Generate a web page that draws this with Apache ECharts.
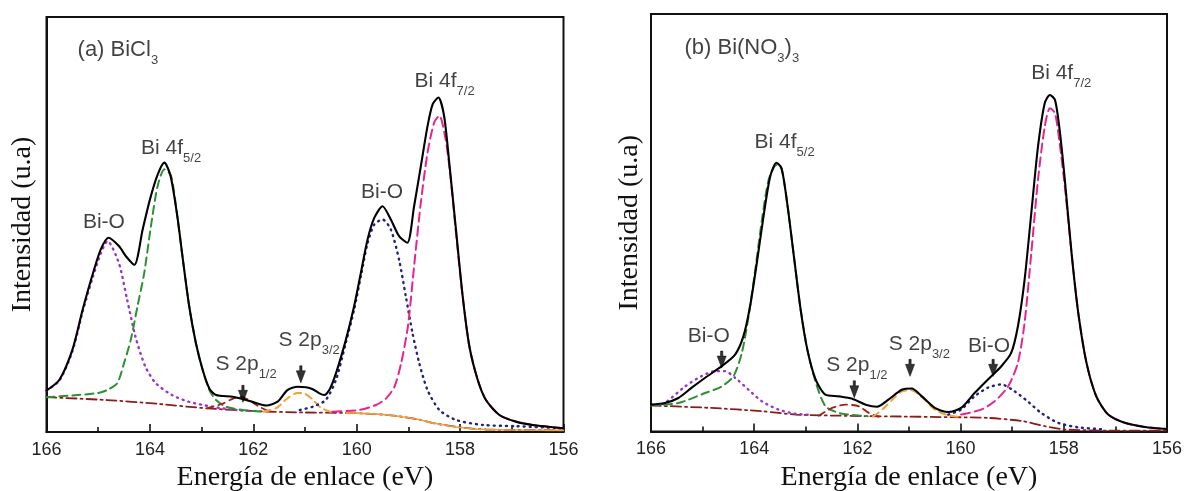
<!DOCTYPE html>
<html>
<head>
<meta charset="utf-8">
<script src="https://cdn.jsdelivr.net/npm/echarts@6/dist/echarts.min.js"></script>
<style>
html,body{margin:0;padding:0;background:#fff;}
#chart{width:1186px;height:491px;}
</style>
</head>
<body>
<div id="chart"></div>
<script>
// ---------- DATA (binding energy eV, intensity a.u.) ----------
const xTicks = [156, 158, 160, 162, 164, 166];

// Panel (a) BiCl3
const totalA = [[166.0,10.0],[165.75,12.6],[165.5,19.8],[165.3,29.5],[165.1,38.3],[164.95,44.0],[164.8,46.8],[164.6,44.8],[164.46,42.3],[164.3,40.3],[164.14,48.8],[164.0,56.0],[163.85,62.0],[163.72,64.9],[163.6,61.7],[163.47,52.0],[163.37,42.3],[163.24,30.3],[163.11,21.4],[162.98,15.0],[162.85,10.5],[162.72,8.9],[162.4,8.5],[162.2,7.9],[162.0,7.2],[161.75,6.4],[161.53,7.3],[161.34,10.1],[161.14,10.9],[160.98,10.8],[160.85,10.3],[160.72,9.3],[160.63,8.9],[160.53,10.1],[160.4,14.2],[160.21,22.2],[160.05,30.3],[159.92,38.3],[159.79,46.4],[159.66,51.6],[159.5,54.4],[159.34,51.2],[159.18,47.2],[159.02,45.6],[158.89,54.4],[158.76,64.0],[158.63,73.7],[158.53,79.0],[158.42,80.6],[158.31,76.2],[158.21,64.9],[158.08,48.8],[157.95,32.7],[157.82,20.6],[157.66,12.6],[157.5,7.7],[157.24,4.1],[156.92,2.5],[156.6,1.7],[156.0,0.9]];
const bgA = [[166.0,8.4],[164.83,7.7],[163.86,6.8],[162.9,5.7],[161.9,5.0],[161.0,4.7],[160.2,4.6],[159.6,4.3],[159.2,3.8],[158.8,3.0],[158.5,2.1],[158.0,1.1],[157.5,0.6],[156.0,0.4]];
const boLeftA = [[166.0,10.0],[165.75,12.4],[165.5,19.4],[165.3,29.0],[165.1,37.5],[164.95,43.0],[164.82,46.0],[164.6,40.7],[164.44,31.9],[164.28,23.0],[164.09,15.8],[163.89,11.8],[163.57,8.9],[163.25,7.3],[162.8,6.1],[162.4,5.4],[162.0,5.0]];
const bi5A = [[166.0,8.4],[165.5,8.8],[165.0,9.4],[164.83,10.1],[164.63,11.8],[164.5,16.6],[164.37,22.2],[164.24,30.3],[164.11,38.3],[163.98,49.6],[163.85,59.3],[163.72,63.3],[163.59,61.7],[163.47,52.0],[163.37,42.3],[163.24,30.3],[163.11,21.4],[162.98,15.0],[162.85,10.1],[162.72,7.7],[162.53,6.1],[162.2,5.3],[161.8,4.9]];
const s12A = [[162.9,5.7],[162.6,6.8],[162.4,8.0],[162.25,8.5],[162.1,7.8],[161.9,6.2],[161.7,5.0]];
const s32A = [[161.8,4.9],[161.55,5.8],[161.35,8.0],[161.15,9.4],[161.0,9.2],[160.85,7.8],[160.7,5.9],[160.5,4.8]];
const boRightA = [[161.1,5.3],[160.85,6.1],[160.6,7.7],[160.4,12.6],[160.21,21.5],[160.05,29.5],[159.92,37.5],[159.79,45.5],[159.66,50.0],[159.5,51.2],[159.34,48.8],[159.18,41.5],[159.05,32.7],[158.92,23.8],[158.79,16.6],[158.63,10.1],[158.4,5.3],[158.08,2.9],[157.56,1.7],[156.92,1.4],[156.0,0.9]];
const bi7A = [[160.47,4.9],[159.95,5.3],[159.63,6.5],[159.43,8.1],[159.27,10.9],[159.14,16.6],[159.01,25.4],[158.89,39.9],[158.76,55.2],[158.63,67.3],[158.5,74.6],[158.4,76.2],[158.28,70.5],[158.18,60.9],[158.08,48.0],[157.95,32.7],[157.82,20.6],[157.66,12.6],[157.5,7.7],[157.24,4.1],[156.92,2.5],[156.6,1.7],[156.0,0.9]];

// Panel (b) Bi(NO3)3
const totalB = [[166.0,6.5],[165.73,6.9],[165.47,8.1],[165.21,10.6],[164.95,13.0],[164.63,15.8],[164.37,18.6],[164.21,23.0],[164.08,30.3],[163.95,40.7],[163.82,52.0],[163.69,61.7],[163.57,65.0],[163.47,63.7],[163.36,55.2],[163.23,42.3],[163.1,29.5],[162.97,19.8],[162.81,12.6],[162.62,8.9],[162.36,8.5],[162.1,7.9],[161.84,6.5],[161.62,6.0],[161.4,7.7],[161.14,10.1],[160.95,10.4],[160.75,8.5],[160.5,5.7],[160.24,4.7],[159.99,5.7],[159.73,9.3],[159.47,12.6],[159.21,15.8],[159.02,19.0],[158.89,25.4],[158.76,36.7],[158.63,52.8],[158.5,68.9],[158.37,79.4],[158.27,81.4],[158.17,80.2],[158.08,72.9],[157.98,60.9],[157.85,43.2],[157.72,28.7],[157.56,16.6],[157.37,8.5],[157.14,4.1],[156.82,2.1],[156.43,1.1],[156.0,0.6]];
const bgB = [[166.0,6.3],[164.83,5.7],[163.85,4.9],[163.2,4.1],[162.23,3.8],[161.0,3.6],[160.4,3.5],[159.47,3.3],[158.8,2.5],[158.37,1.3],[158.0,0.5],[157.0,0.2],[156.0,0.2]];
const boLeftB = [[165.9,6.4],[165.73,6.9],[165.34,10.9],[165.02,13.4],[164.76,14.6],[164.57,14.6],[164.37,13.0],[164.11,10.1],[163.85,7.3],[163.53,5.3],[163.2,4.3],[162.9,4.0]];
const bi5B = [[166.0,6.3],[165.47,6.9],[164.95,9.3],[164.63,10.9],[164.4,13.4],[164.24,19.0],[164.11,27.8],[163.98,39.1],[163.85,51.2],[163.72,60.9],[163.57,64.5],[163.47,63.5],[163.36,55.2],[163.23,42.3],[163.1,29.5],[162.97,19.8],[162.81,12.0],[162.62,6.1],[162.36,4.5],[162.1,4.0],[161.8,3.7]];
const s12B = [[162.75,3.8],[162.49,5.7],[162.23,6.5],[161.97,6.1],[161.78,4.5],[161.59,3.6]];
const s32B = [[161.7,3.6],[161.5,5.5],[161.3,8.0],[161.14,9.7],[160.95,10.0],[160.75,8.3],[160.5,5.3],[160.24,3.9],[160.0,3.5]];
const boRightB = [[160.24,4.1],[159.99,5.3],[159.73,8.5],[159.47,10.6],[159.21,11.4],[158.95,9.7],[158.7,7.3],[158.44,4.5],[158.11,2.1],[157.72,1.0],[157.2,0.5]];
const bi7B = [[159.99,4.1],[159.6,5.3],[159.34,7.3],[159.08,10.9],[158.89,16.6],[158.76,26.3],[158.63,43.2],[158.5,60.9],[158.37,73.7],[158.27,78.2],[158.17,77.0],[158.08,69.7],[157.98,59.3],[157.85,43.2],[157.72,28.7],[157.56,16.6],[157.37,8.5],[157.14,4.1],[156.82,2.1],[156.43,1.1],[156.0,0.6]];

// Annotations: [text, energy, intensity]
const labelsA = [['{t|(a) BiCl}{s|3}',164.62,92.0],['{m|Bi-O}',164.89,50.6],['{m|Bi 4f}{s|5/2}',163.59,68.4],['{m|S 2p}{s|1/2}',162.14,16.4],['{m|S 2p}{s|3/2}',160.92,22.2],['{m|Bi-O}',159.51,57.8],['{m|Bi 4f}{s|7/2}',158.30,84.6]];
const arrowsA = [[162.20,9.2],[161.08,13.9]];
const labelsB = [['{t|(b) Bi(NO}{s|3}{t|)}{s|3}',164.24,92.8],['{m|Bi 4f}{s|5/2}',163.41,70.1],['{m|Bi-O}',164.88,23.0],['{m|S 2p}{s|1/2}',162.01,16.1],['{m|S 2p}{s|3/2}',160.80,21.2],['{m|Bi-O}',159.45,20.7],['{m|Bi 4f}{s|7/2}',158.05,86.7]];
const arrowsB = [[164.63,17.4],[162.06,10.2],[160.98,15.4],[159.37,15.4]];

// ---------- STYLE ----------
const SANS = 'Liberation Sans';
const SERIF = 'Liberation Serif';
const C = {
  total:'#000000', green:'#2f8f35', magenta:'#e8248e', purple:'#9a35c8',
  navy:'#23237e', orange:'#f0a23a', red:'#a3201c', bg:'#8a1c1c'
};
const rich = {
  t:{fontFamily:SANS, fontSize:22, color:'#111', lineHeight:34, verticalAlign:'middle'},
  m:{fontFamily:SANS, fontSize:21, color:'#111', lineHeight:34, verticalAlign:'middle'},
  s:{fontFamily:SANS, fontSize:13, color:'#111', lineHeight:13, verticalAlign:'top', padding:[21,0,0,0]}
};
const arrowPath = 'path://M3,0 L5,0 L5,5 L8,5 L4,17 L0,5 L3,5 Z';

function xAxisCfg(idx){
  return {
    type:'value', gridIndex:idx, min:156, max:166, interval:2, inverse:true,
    axisLine:{show:true, lineStyle:{color:'#111', width:2}},
    axisTick:{show:true, inside:true, length:8, lineStyle:{color:'#111', width:1.6}},
    minorTick:{show:true, splitNumber:2, length:5, lineStyle:{color:'#111', width:1.6}},
    splitLine:{show:false}, minorSplitLine:{show:false},
    axisLabel:{fontFamily:SANS, fontSize:18, color:'#222', margin:9,
      formatter:v => xTicks.includes(v) ? String(v) : ''},
    name:'Energía de enlace (eV)', nameLocation:'middle', nameGap:31,
    nameTextStyle:{fontFamily:SERIF, fontSize:28, color:'#111'}
  };
}
function yAxisCfg(idx, max, gap){
  return {
    type:'value', gridIndex:idx, min:0, max:max,
    axisLine:{show:true, lineStyle:{color:'#111', width:2}},
    axisTick:{show:false}, axisLabel:{show:false}, splitLine:{show:false},
    name:'Intensidad (u.a)', nameLocation:'middle', nameGap:gap,
    nameTextStyle:{fontFamily:SERIF, fontSize:28, color:'#111'}
  };
}
function line(idx, data, color, type, width, z){
  return {type:'line', xAxisIndex:idx, yAxisIndex:idx, data:data, showSymbol:false, symbol:'none',
    smooth:0.25, silent:true, z:z||2, animation:false,
    lineStyle:{color:color, type:type, width:width||1.8, cap:'round'}};
}
function labels(idx, arr){
  return {type:'scatter', xAxisIndex:idx, yAxisIndex:idx, symbolSize:1, silent:true, animation:false,
    itemStyle:{color:'rgba(0,0,0,0)'},
    data:arr.map(a => ({value:[a[1],a[2]], name:a[0]})),
    label:{show:true, position:'inside', formatter:p => p.name, rich:rich}, z:10};
}
function arrows(idx, arr){
  return {type:'scatter', xAxisIndex:idx, yAxisIndex:idx, symbol:arrowPath, symbolSize:[9,17],
    silent:true, animation:false, itemStyle:{color:'#000', borderColor:'#000', borderWidth:0.6}, data:arr, z:10};
}
function panel(idx, d){
  return [
    line(idx, d.bg, C.bg, [10,4,2,4], 1.8),
    line(idx, d.bgo, C.orange, 'solid', 1.6),
    line(idx, d.boL, C.purple, [1,5], 2.4),
    line(idx, d.bi5, C.green, [8,5], 2.0),
    line(idx, d.s12, C.red, [7,5], 1.8),
    line(idx, d.s32, C.orange, [7,5], 2.0),
    line(idx, d.boR, C.navy, [1,5], 2.4),
    line(idx, d.bi7, C.magenta, [9,5], 2.0),
    line(idx, d.total, C.total, 'solid', 2.1, 5),
    labels(idx, d.labels), arrows(idx, d.arrows)
  ];
}

const chart = echarts.init(document.getElementById('chart'), null, {renderer:'canvas'});
chart.setOption({
  backgroundColor:'#fff',
  animation:false,
  grid:[
    {left:46.5, top:17, width:517, height:415, show:true, borderColor:'#111', borderWidth:2, backgroundColor:'transparent', outerBoundsMode:'none', containLabel:false},
    {left:651, top:14, width:516, height:417.5, show:true, borderColor:'#111', borderWidth:2, backgroundColor:'transparent', outerBoundsMode:'none', containLabel:false}
  ],
  xAxis:[xAxisCfg(0), xAxisCfg(1)],
  yAxis:[yAxisCfg(0, 100, 10), yAxisCfg(1, 101, 7)],
  series:[].concat(
    panel(0, {bg:bgA, bgo:bgA.filter(p => p[0] <= 160.6), boL:boLeftA, bi5:bi5A, s12:s12A, s32:s32A, boR:boRightA, bi7:bi7A, total:totalA, labels:labelsA, arrows:arrowsA}),
    panel(1, {bg:bgB, bgo:[], boL:boLeftB, bi5:bi5B, s12:s12B, s32:s32B, boR:boRightB, bi7:bi7B, total:totalB, labels:labelsB, arrows:arrowsB})
  )
});
</script>
</body>
</html>
